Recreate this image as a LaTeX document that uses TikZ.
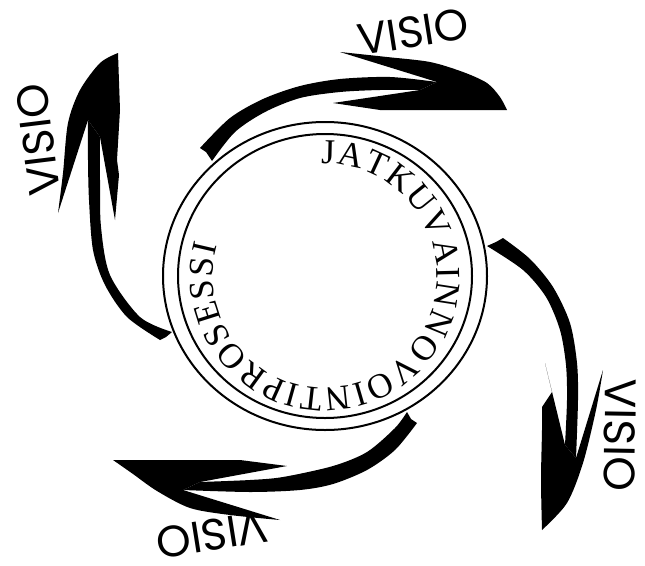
\documentclass[tikz,border=0pt]{standalone}
\usepackage{fontspec}
\usetikzlibrary{decorations.text}
\newfontfamily\visiofont{Poppins}
\newfontfamily\ringfont{Liberation Serif}
\begin{document}
\begin{tikzpicture}[x=1pt,y=-1pt,
  ringline/.style={line width=2pt},
  visio/.style={font=\visiofont\fontsize{44}{44}\selectfont, inner sep=0pt},
  swoosh/.style={fill=black}]
\useasboundingbox (0,0) rectangle (645,565);
\coordinate (C) at (325,276);
% ring
\draw[ringline] (C) ellipse [x radius=162, y radius=154];
\draw[ringline] (C) ellipse [x radius=147, y radius=142];
\path[decorate, decoration={text along path, text align={fit to path},
  text={|\ringfont\fontsize{35}{35}\selectfont|JATKUVAINNOVOINTIPROSESSI}}]
  (C) ++(-92:112) arc[start angle=-92, end angle=196, radius=112];
% top arrow
\fill[swoosh] plot[smooth] coordinates {(200,148) (230,118) (263,99) (300,86) (340,79) (390,77) (437,82)}
  -- plot[smooth] coordinates {(420,90) (380,90) (340,92) (300,98) (265,112) (235,132) (212,161)} -- (206,152) -- cycle;
\fill[swoosh] plot[smooth] coordinates {(340,52) (387,57) (430,62) (463,72) (487,83) (500,97) (507,110)}
  -- (380,110) -- (333,103) -- (420,90) -- (437,82) -- cycle;
% right arrow
\fill[swoosh] plot[smooth] coordinates {(503,238) (530,259) (553,287) (570,323) (577,363) (578,400) (576,458)}
  -- plot[smooth] coordinates {(565,445) (567,400) (566,365) (560,330) (546,297) (523,270) (487,246)} -- (496,242) -- cycle;
\fill[swoosh] (545,363) -- (565,445) -- (576,458) -- (603,370)
  -- plot[smooth] coordinates {(603,370) (596,410) (583,463) (567,503) (542,530)}
  -- plot[smooth] coordinates {(542,530) (541,480) (542,430) (542,407)} -- (552,392) -- cycle;
% bottom arrow
\fill[swoosh] plot[smooth] coordinates {(417,423) (395,450) (367,470) (333,484) (300,490) (250,492) (183,490)}
  -- plot[smooth] coordinates {(200,482) (250,480) (283,477) (333,466) (367,452) (395,428) (407,412)} -- (411,419) -- cycle;
\fill[swoosh] (113,460) -- (240,460) -- (287,466) -- (200,482) -- (183,490) -- (280,520)
  -- plot[smooth] coordinates {(280,520) (230,515) (190,508) (157,491) (133,474) (113,460)} -- cycle;
% left arrow
\fill[swoosh] plot[smooth] coordinates {(160,340) (127,317) (105,285) (93,250) (89,200) (88,160) (88,120)}
  -- plot[smooth] coordinates {(100,137) (100,180) (101,227) (110,275) (140,317) (172,332)} -- (166,337) -- cycle;
\fill[swoosh] plot[smooth] coordinates {(118,53) (100,63) (80,90) (68,123) (63,173) (58,213)}
  -- (88,120) -- (100,137) -- (115,220) -- (119,175) -- (117,160) -- (120,110) -- cycle;
% labels
\node[visio, rotate=9] (visioT) at (413,32) {VISIO};
\node[visio, rotate=-91] (visioR) at (620,435) {VISIO};
\node[visio, rotate=189] (visioB) at (212,535) {VISIO};
\node[visio, rotate=97] (visioL) at (38,140) {VISIO};
\end{tikzpicture}
\end{document}
